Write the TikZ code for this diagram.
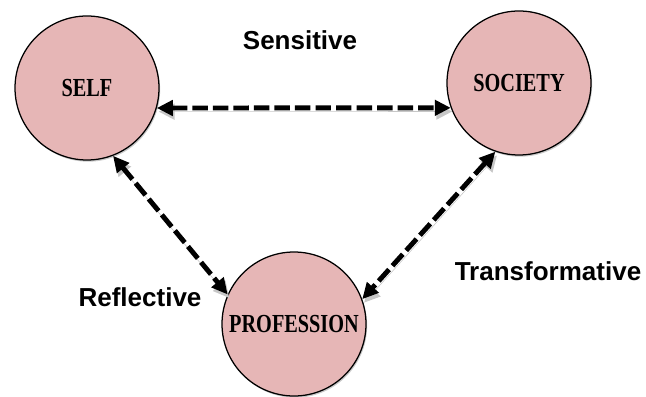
\documentclass[tikz,border=0pt]{standalone}
\usepackage{fontspec}
\setmainfont{Liberation Serif}[FakeStretch=0.78]
\setsansfont{Liberation Sans}
\usepackage{tikz}
\usetikzlibrary{arrows.meta,shadows}
\definecolor{rose}{RGB}{230,182,182}
\tikzset{
  circ/.style={circle, draw, line width=0.9pt, inner sep=0pt, minimum size=3.6cm,
               fill=rose, font=\fontsize{18.5}{20}\selectfont\bfseries,
               drop shadow={shadow xshift=0.8pt, shadow yshift=-1.2pt, fill=black!35, opacity=0.6}},
  lbl/.style={font=\sffamily\bfseries\fontsize{18.5}{21}\selectfont},
  ed/.style={{Triangle[length=4mm,width=3.8mm]}-{Triangle[length=4mm,width=3.8mm]},
             line width=3.5pt, dash pattern=on 11pt off 3.6pt,
             preaction={draw=black!22, transform canvas={shift={(1.2pt,-2.6pt)}}}}
}
\begin{document}
\begin{tikzpicture}
\useasboundingbox (0,0) rectangle (16.15,9.9);
\node[circ] (SE) at (2.175,7.7)  {SELF};
\node[circ] (SO) at (12.975,7.825) {SOCIETY};
\node[circ] (PR) at (7.35,1.8)  {PROFESSION};
\draw[ed] (SE.-16) -- (SO.200);
\draw[ed] (SE.-69) -- (PR.156);
\draw[ed] (SO.251) -- (PR.20);
\node[lbl] (sens) at (7.5,8.9)   {Sensitive};
\node[lbl] (refl) at (3.5,2.475) {Reflective};
\node[lbl] (tran) at (13.7,3.125) {Transformative};
\end{tikzpicture}
\end{document}
